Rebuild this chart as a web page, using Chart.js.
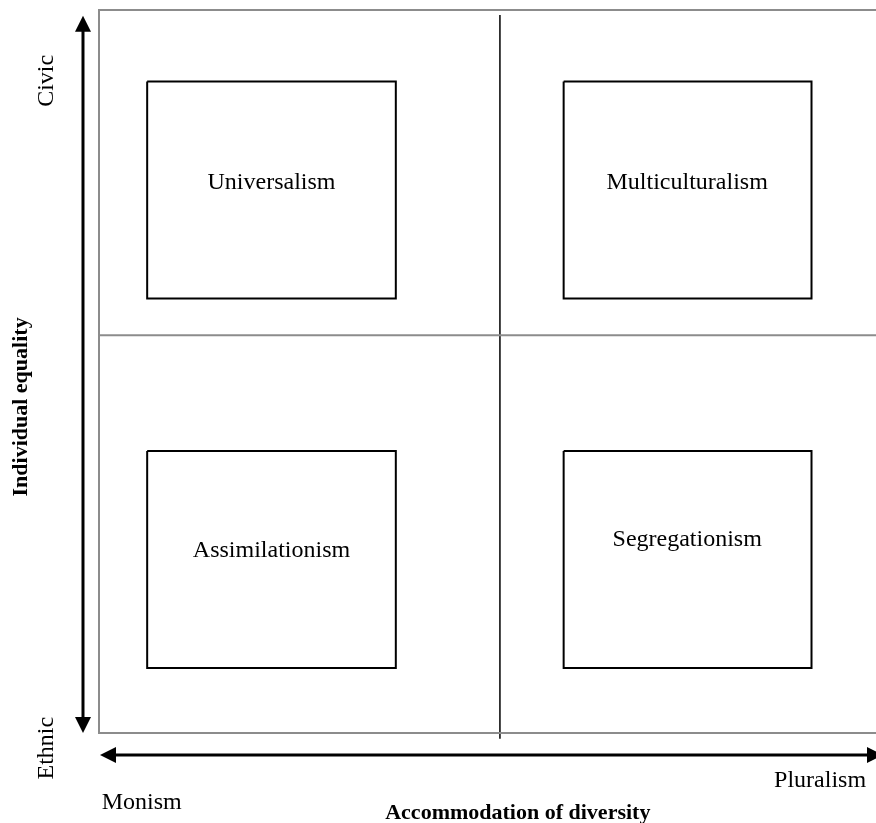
<!DOCTYPE html>
<html>
<head>
<meta charset="utf-8">
<script src="https://cdn.jsdelivr.net/npm/chart.js@4/dist/chart.umd.min.js"></script>
<style>
  html, body { margin: 0; padding: 0; background: #ffffff; }
  canvas { display: block; }
</style>
</head>
<body>
<canvas id="c" width="876" height="823"></canvas>
<script>
// ---- Data (conceptual 0..100 space on both axes) ----
const quadrantNames = ['Universalism', 'Multiculturalism', 'Assimilationism', 'Segregationism'];
const boxLeft   = [6.2, 59.8, 6.2, 59.8];
const boxRight  = [38.2, 91.7, 38.2, 91.7];
const boxTop    = [90.1, 90.1, 39.0, 39.0];
const boxBottom = [60.1, 60.1, 9.0, 9.0];
const labelX    = [22.2, 75.7, 22.2, 75.7];
const labelY    = [75.3, 75.3, 24.4, 25.9];

const dividerX = 51.6;          // split on "Accommodation of diversity"
const dividerY = 55.0;          // split on "Individual equality"
const axisMin = 0, axisMax = 100;

const xAxisTitle = 'Accommodation of diversity';
const yAxisTitle = 'Individual equality';
const xEndLabels = ['Monism', 'Pluralism'];
const yEndLabels = ['Ethnic', 'Civic'];

// ---- Build datasets ----
const datasets = [];
// outer frame (top, left, bottom)
datasets.push({
  data: [{x: axisMax, y: axisMax}, {x: axisMin, y: axisMax}, {x: axisMin, y: axisMin}, {x: axisMax, y: axisMin}],
  borderColor: '#8c8c8c', borderWidth: 2, showLine: true, pointRadius: 0, clip: false
});
// horizontal divider
datasets.push({
  data: [{x: axisMin, y: dividerY}, {x: axisMax, y: dividerY}],
  borderColor: '#8c8c8c', borderWidth: 2, showLine: true, pointRadius: 0, clip: false
});
// vertical divider (slightly overshoots the frame as in the original)
datasets.push({
  data: [{x: dividerX, y: 99.3}, {x: dividerX, y: -0.8}],
  borderColor: '#000000', borderWidth: 1.5, showLine: true, pointRadius: 0, clip: false
});
// quadrant boxes
quadrantNames.forEach((n, i) => {
  datasets.push({
    label: n,
    data: [
      {x: boxLeft[i], y: boxTop[i]}, {x: boxRight[i], y: boxTop[i]},
      {x: boxRight[i], y: boxBottom[i]}, {x: boxLeft[i], y: boxBottom[i]},
      {x: boxLeft[i], y: boxTop[i]}
    ],
    borderColor: '#000000', borderWidth: 2, showLine: true, pointRadius: 0,
    borderJoinStyle: 'miter', clip: false
  });
});

// ---- Annotation positions (data coords) ----
const yArrowX = -2.06, xArrowY = -3.04;

const annotPlugin = {
  id: 'annot',
  afterDatasetsDraw(chart) {
    const ctx = chart.ctx;
    const xs = chart.scales.x, ys = chart.scales.y;
    const px = v => xs.getPixelForValue(v);
    const py = v => ys.getPixelForValue(v);
    ctx.save();
    ctx.fillStyle = '#000';
    ctx.strokeStyle = '#000';

    // vertical arrow
    const vx = px(yArrowX), vTop = py(99.2), vBot = py(axisMin);
    const hl = 16, hw = 8;
    ctx.lineWidth = 3;
    ctx.beginPath(); ctx.moveTo(vx, vTop + hl - 2); ctx.lineTo(vx, vBot - hl + 2); ctx.stroke();
    ctx.beginPath(); ctx.moveTo(vx, vTop); ctx.lineTo(vx - hw, vTop + hl); ctx.lineTo(vx + hw, vTop + hl); ctx.closePath(); ctx.fill();
    ctx.beginPath(); ctx.moveTo(vx, vBot); ctx.lineTo(vx - hw, vBot - hl); ctx.lineTo(vx + hw, vBot - hl); ctx.closePath(); ctx.fill();

    // horizontal arrow
    const hy = py(xArrowY), hL = px(0.13), hR = px(100.9);
    ctx.beginPath(); ctx.moveTo(hL + hl - 2, hy); ctx.lineTo(hR - hl + 2, hy); ctx.stroke();
    ctx.beginPath(); ctx.moveTo(hL, hy); ctx.lineTo(hL + hl, hy - hw); ctx.lineTo(hL + hl, hy + hw); ctx.closePath(); ctx.fill();
    ctx.beginPath(); ctx.moveTo(hR, hy); ctx.lineTo(hR - hl, hy - hw); ctx.lineTo(hR - hl, hy + hw); ctx.closePath(); ctx.fill();

    // quadrant labels
    const reg = '24px "Liberation Serif", "Times New Roman", serif';
    const bold = 'bold 22px "Liberation Serif", "Times New Roman", serif';
    ctx.font = reg;
    ctx.textAlign = 'center';
    ctx.textBaseline = 'alphabetic';
    quadrantNames.forEach((n, i) => ctx.fillText(n, px(labelX[i]), py(labelY[i])));

    // x end labels
    ctx.fillText(xEndLabels[0], px(5.5), py(-10.5));
    ctx.fillText(xEndLabels[1], px(92.8), py(-7.47));

    // x title
    ctx.font = bold;
    ctx.fillText(xAxisTitle, px(53.9), py(-11.9));

    // rotated labels
    const rot = (text, x, y, font) => {
      ctx.save();
      ctx.translate(x, y);
      ctx.rotate(-Math.PI / 2);
      ctx.font = font;
      ctx.textAlign = 'center';
      ctx.textBaseline = 'alphabetic';
      ctx.fillText(text, 0, 0);
      ctx.restore();
    };
    rot(yEndLabels[1], px(-5.92), py(90.2), reg);
    rot(yEndLabels[0], px(-5.92), py(-2.1), reg);
    rot(yAxisTitle, px(-9.27), py(45.1), bold);

    ctx.restore();
  }
};

new Chart(document.getElementById('c'), {
  type: 'scatter',
  data: { datasets },
  options: {
    responsive: false,
    devicePixelRatio: 1,
    animation: false,
    layout: { padding: { left: 99, top: 10, right: 0, bottom: 90 } },
    plugins: { legend: { display: false }, tooltip: { enabled: false } },
    elements: { line: { tension: 0 } },
    scales: {
      x: { type: 'linear', min: axisMin, max: axisMax, display: false },
      y: { type: 'linear', min: axisMin, max: axisMax, display: false }
    }
  },
  plugins: [annotPlugin]
});
</script>
</body>
</html>
